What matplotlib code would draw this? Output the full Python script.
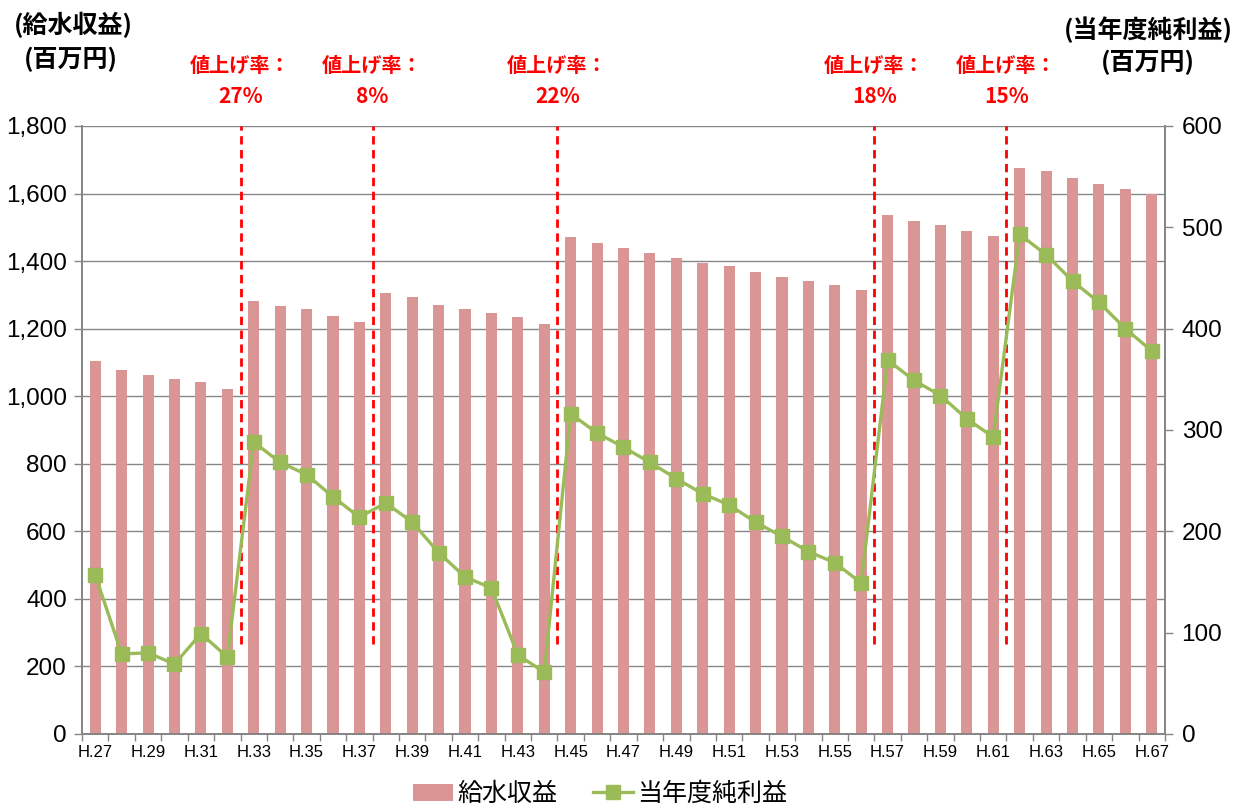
import matplotlib
matplotlib.use('Agg')
import matplotlib.pyplot as plt
import numpy as np

# 年度 H.27 - H.67
years = ['H.%d' % y for y in range(27, 68)]

# 給水収益 (百万円)
revenue = [1104, 1077, 1062, 1050, 1041, 1022,
           1282, 1266, 1257, 1237, 1221,
           1305, 1294, 1271, 1258, 1245, 1233, 1215,
           1470, 1453, 1438, 1424, 1409, 1394, 1385, 1367, 1354, 1340, 1330, 1313,
           1535, 1520, 1508, 1489, 1474,
           1677, 1666, 1645, 1628, 1612, 1600]

# 当年度純利益 (百万円)
profit = [157, 79, 80, 69, 99, 76,
          288, 268, 256, 234, 214,
          228, 209, 179, 155, 144, 78, 61,
          316, 297, 283, 268, 252, 237, 226, 209, 195, 180, 169, 149,
          369, 349, 334, 311, 293,
          493, 473, 447, 426, 400, 378]

# 値上げの時期 (直後の年度) と値上げ率
hike_years = ['H.33', 'H.38', 'H.45', 'H.57', 'H.62']
hike_rates = ['27%', '8%', '22%', '18%', '15%']

JP = ['Noto Sans CJK JP', 'DejaVu Sans']
plt.rcParams['font.family'] = ['Liberation Sans', 'Noto Sans CJK JP', 'DejaVu Sans']

grey = '#868686'
bar_color = '#D99694'
line_color = '#9BBB59'

fig = plt.figure(figsize=(12.45, 8.07), dpi=100)
ax = fig.add_axes([0.0659, 0.0905, 0.8698, 0.7534])
ax2 = ax.twinx()

x = np.arange(len(years))
ax.bar(x, revenue, width=0.42, color=bar_color, label='給水収益', zorder=2)
ax2.plot(x, profit, color=line_color, lw=2.4, marker='s', ms=10,
         label='当年度純利益', zorder=5)

# 値上げ時期の区切り線
for yr, rate in zip(hike_years, hike_rates):
    xp = years.index(yr) - 0.5
    ax.vlines(xp, 265, 1800, colors='#FF0000', lw=2, linestyles=(0, (3, 2)), zorder=3)
    ax.text(xp, 1.099, '値上げ率：', transform=ax.get_xaxis_transform(),
            ha='center', va='center', color='#FF0000', fontsize=14.5,
            fontweight='bold', family=JP)
    ax.text(xp, 1.049, rate, transform=ax.get_xaxis_transform(),
            ha='center', va='center', color='#FF0000', fontsize=15,
            fontweight='bold', family=JP)

ax.set_xlim(-0.5, len(years) - 0.5)
ax.set_ylim(0, 1800)
ax2.set_ylim(0, 600)
ax.set_yticks(np.arange(0, 1801, 200))
ax.set_yticklabels(['{:,}'.format(v) for v in range(0, 1801, 200)])
ax2.set_yticks(np.arange(0, 601, 100))

ax.set_xticks(x[::2])
ax.set_xticklabels(years[::2])
ax.set_xticks(np.arange(-0.5, len(years), 1), minor=True)
ax.tick_params(axis='x', which='major', length=0, labelsize=12, pad=8)
ax.tick_params(axis='x', which='minor', length=5, color=grey, width=1)
ax.tick_params(axis='y', length=6, color=grey, width=1, labelsize=17.5, pad=5)
ax2.tick_params(axis='y', length=6, color=grey, width=1, labelsize=17.5, pad=6)

ax.grid(axis='y', color=grey, lw=1)
ax.set_axisbelow(True)
for a in (ax, ax2):
    a.spines['top'].set_visible(False)
    for s in ('left', 'right', 'bottom'):
        a.spines[s].set_color(grey)
        a.spines[s].set_linewidth(1.3)

fig.text(0.059, 0.969, '(給水収益)', ha='center', va='center', fontsize=18,
         fontweight='bold', family=JP)
fig.text(0.057, 0.926, '(百万円)', ha='center', va='center', fontsize=18,
         fontweight='bold', family=JP)
fig.text(0.922, 0.963, '(当年度純利益)', ha='center', va='center', fontsize=18,
         fontweight='bold', family=JP)
fig.text(0.922, 0.923, '(百万円)', ha='center', va='center', fontsize=18,
         fontweight='bold', family=JP)

h1, l1 = ax.get_legend_handles_labels()
h2, l2 = ax2.get_legend_handles_labels()
fig.legend(h1 + h2, l1 + l2, loc='center', bbox_to_anchor=(0.482, 0.016),
           ncol=2, frameon=False, prop={'family': JP, 'size': 18},
           handlelength=1.6, columnspacing=1.4, handletextpad=0.2,
           borderpad=0, borderaxespad=0)

fig.savefig('out.png', dpi=100)
